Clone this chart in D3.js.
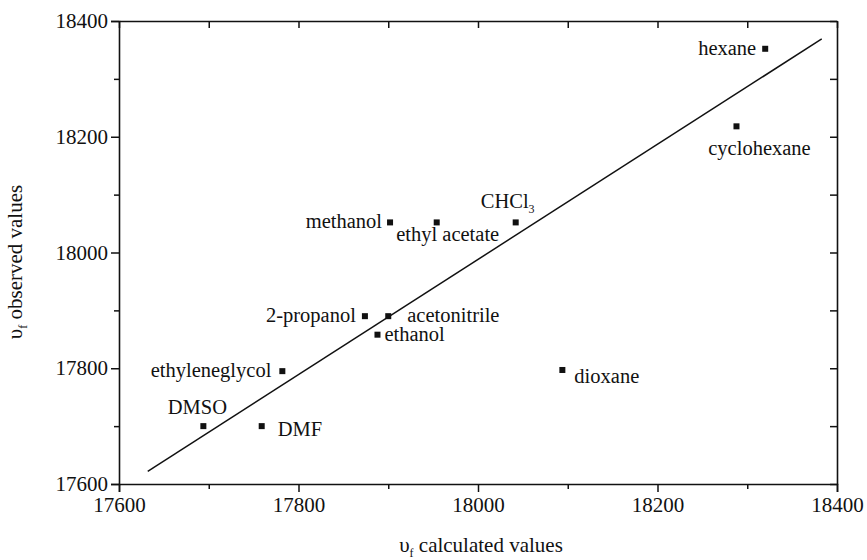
<!DOCTYPE html>
<html>
<head>
<meta charset="utf-8">
<script src="https://cdn.jsdelivr.net/npm/d3@7"></script>
<style>
  html, body { margin: 0; padding: 0; background: #fff; }
  svg text { font-family: "Liberation Serif", "DejaVu Serif", serif; fill: #111; }
</style>
</head>
<body>
<svg id="chart" width="867" height="560"></svg>
<script>
// Solvents and their fluorescence maxima (cm^-1)
const solvents = ["hexane", "cyclohexane", "CHCl3", "methanol", "ethyl acetate",
  "2-propanol", "acetonitrile", "ethanol", "ethyleneglycol", "dioxane", "DMSO", "DMF"];
const calculated = [18320, 18288, 18042, 17902, 17954, 17874, 17900, 17888, 17782, 18094, 17694, 17759];
const observed   = [18352, 18218, 18052, 18052, 18052, 17890, 17890, 17858, 17795, 17797, 17700, 17700];

// Fitted correlation line endpoints
const fitX = [17632, 18383];
const fitY = [17622, 18369];

// Axis ticks
const majorTicks = [17600, 17800, 18000, 18200, 18400];
const minorTicks = [17700, 17900, 18100, 18300];

// Label placement per solvent: text anchor and offset from the marker
const labelPlacement = [
  { anchor: "end",    dx: -9,  dy: 6 },   // hexane
  { anchor: "middle", dx: 23,  dy: 29 },  // cyclohexane
  { anchor: "middle", dx: -8,  dy: -14 }, // CHCl3
  { anchor: "end",    dx: -8,  dy: 6 },   // methanol
  { anchor: "middle", dx: 11,  dy: 19 },  // ethyl acetate
  { anchor: "end",    dx: -9,  dy: 6 },   // 2-propanol
  { anchor: "start",  dx: 19,  dy: 6 },   // acetonitrile
  { anchor: "start",  dx: 7,   dy: 6 },   // ethanol
  { anchor: "end",    dx: -11, dy: 6 },   // ethyleneglycol
  { anchor: "start",  dx: 12,  dy: 13 },  // dioxane
  { anchor: "middle", dx: -6,  dy: -12 }, // DMSO
  { anchor: "start",  dx: 16,  dy: 10 }   // DMF
];

const svg = d3.select("#chart");
const plotLeft = 119, plotRight = 837, plotTop = 21, plotBottom = 484;

const x = d3.scaleLinear().domain([17600, 18400]).range([plotLeft, plotRight]);
const y = d3.scaleLinear().domain([17600, 18400]).range([plotBottom, plotTop]);

const axisStroke = 1.6;

function styleAxis(g) {
  g.selectAll("path.domain").attr("stroke", "#111").attr("stroke-width", axisStroke);
  g.selectAll(".tick line").attr("stroke", "#111").attr("stroke-width", 1.5);
  g.selectAll(".tick text")
    .style("font-family", '"Liberation Serif", serif')
    .style("font-size", "21px")
    .attr("fill", "#111");
}

// Bottom axis: labelled majors, outward ticks
const gx = svg.append("g").attr("transform", `translate(0,${plotBottom})`)
  .call(d3.axisBottom(x).tickValues(majorTicks).tickSize(8).tickPadding(3).tickFormat(d3.format("d")));
styleAxis(gx);
gx.selectAll(".tick text").attr("dy", "0.8em");
svg.append("g").attr("transform", `translate(0,${plotBottom})`)
  .call(d3.axisBottom(x).tickValues(minorTicks).tickSize(5).tickFormat(""))
  .call(g => { g.select(".domain").remove(); styleAxis(g); });

// Left axis
const gy = svg.append("g").attr("transform", `translate(${plotLeft},0)`)
  .call(d3.axisLeft(y).tickValues(majorTicks).tickSize(8).tickPadding(3).tickFormat(d3.format("d")));
styleAxis(gy);
svg.append("g").attr("transform", `translate(${plotLeft},0)`)
  .call(d3.axisLeft(y).tickValues(minorTicks).tickSize(5).tickFormat(""))
  .call(g => { g.select(".domain").remove(); styleAxis(g); });

// Top and right axes close the frame with inward ticks
svg.append("g").attr("transform", `translate(0,${plotTop})`)
  .call(d3.axisTop(x).tickValues(majorTicks.concat(minorTicks)).tickSize(-7).tickSizeOuter(0).tickFormat(""))
  .call(styleAxis);
svg.append("g").attr("transform", `translate(${plotRight},0)`)
  .call(d3.axisRight(y).tickValues(majorTicks.concat(minorTicks)).tickSize(-7).tickSizeOuter(0).tickFormat(""))
  .call(styleAxis);

// Correlation line
svg.append("line")
  .attr("x1", x(fitX[0])).attr("y1", y(fitY[0]))
  .attr("x2", x(fitX[1])).attr("y2", y(fitY[1]))
  .attr("stroke", "#111").attr("stroke-width", 1.5);

// Points
const pts = solvents.map((name, i) => ({ name, cx: calculated[i], oy: observed[i], place: labelPlacement[i] }));
const sq = 6;
svg.append("g").selectAll("rect").data(pts).join("rect")
  .attr("x", d => x(d.cx) - sq / 2)
  .attr("y", d => y(d.oy) - sq / 2)
  .attr("width", sq).attr("height", sq)
  .attr("fill", "#111");

// Labels
const labels = svg.append("g").selectAll("text").data(pts).join("text")
  .attr("x", d => x(d.cx) + d.place.dx)
  .attr("y", d => y(d.oy) + d.place.dy)
  .attr("text-anchor", d => d.place.anchor)
  .style("font-size", "20.5px");
labels.each(function(d) {
  const t = d3.select(this);
  if (d.name === "CHCl3") {
    t.append("tspan").text("CHCl");
    t.append("tspan").attr("dy", 5).style("font-size", "12px").text("3");
  } else {
    t.text(d.name);
  }
});

// Axis titles
const xTitle = svg.append("text")
  .attr("x", 481).attr("y", 552)
  .attr("text-anchor", "middle").style("font-size", "21px");
xTitle.append("tspan").text("υ");
xTitle.append("tspan").attr("dy", 5).style("font-size", "12px").text("f");
xTitle.append("tspan").attr("dy", -5).text(" calculated values");

const yTitle = svg.append("text")
  .attr("transform", "translate(22,262) rotate(-90)")
  .attr("text-anchor", "middle").style("font-size", "21px");
yTitle.append("tspan").text("υ");
yTitle.append("tspan").attr("dy", 5).style("font-size", "12px").text("f");
yTitle.append("tspan").attr("dy", -5).text(" observed values");
</script>
</body>
</html>
